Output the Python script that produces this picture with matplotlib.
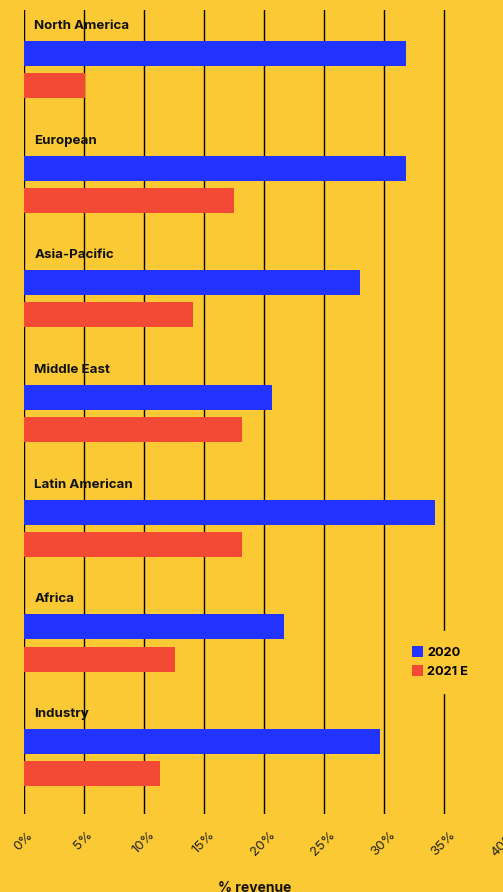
import matplotlib.pyplot as plt
import numpy as np

regions = ['North America', 'European', 'Asia-Pacific', 'Middle East',
           'Latin American', 'Africa', 'Industry']
rev_2020 = [31.9, 31.9, 28.0, 20.7, 34.3, 21.7, 29.7]
rev_2021 = [5.1, 17.5, 14.1, 18.2, 18.2, 12.6, 11.4]
xticks = [0, 5, 10, 15, 20, 25, 30, 35, 40]
xticklabels = ['%d%%' % t for t in xticks]

bg = '#FBC933'
blue = '#2233FF'
red = '#F34A36'

plt.rcParams['font.family'] = ['Inter', 'DejaVu Sans']

W, H = 503, 892
fig = plt.figure(figsize=(W / 100, H / 100), dpi=100, facecolor=bg)
ax = fig.add_axes([23.5 / W, 1 - 814 / H, 480 / W, (814 - 10) / H])
ax.set_facecolor(bg)

period = 114.7
y = np.arange(len(regions))
bar_h = 25 / period
ax.barh(y + 27.5 / period, rev_2020, height=bar_h, color=blue, label='2020', zorder=3)
ax.barh(y + 59.5 / period, rev_2021, height=bar_h, color=red, label='2021 E', zorder=3)

for i, name in enumerate(regions):
    ax.text(0.9, i, name, fontsize=9.6, fontweight='bold', color='#111111',
            va='center', ha='left', zorder=4)

ax.set_xlim(0, 40)
ax.set_ylim((814 - 26) / period, -16 / period)
ax.set_xticks(xticks)
ax.set_xticklabels(xticklabels, rotation=45, fontsize=9.5, color='#222222')
ax.set_yticks([])
ax.tick_params(axis='x', length=0, pad=11)
ax.grid(axis='x', color='black', linewidth=1.0, zorder=0)
ax.set_axisbelow(True)
for s in ax.spines.values():
    s.set_visible(False)

ax.set_xlabel('% revenue', fontsize=10, fontweight='bold', color='#111111')
ax.xaxis.set_label_coords((255 - 23.5) / 480, -(881 - 814) / (814 - 10))

leg = ax.legend(loc='center', bbox_to_anchor=(440 / W, 1 - 662 / H),
                bbox_transform=fig.transFigure, frameon=True, fancybox=False,
                facecolor=bg, edgecolor=bg, framealpha=1,
                handlelength=0.9, handleheight=0.9, handletextpad=0.3,
                labelspacing=0.5, borderpad=1.2,
                prop={'weight': 'bold', 'size': 9.2})
leg.set_zorder(5)

fig.savefig('out.png', dpi=100, facecolor=bg)
